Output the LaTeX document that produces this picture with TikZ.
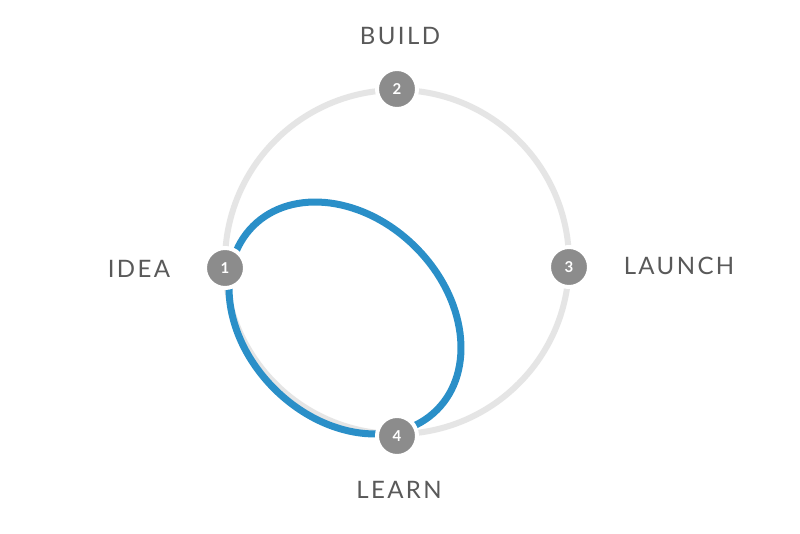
\documentclass[tikz,border=0pt]{standalone}
\usepackage{fontspec}
\setmainfont{Lato}
\definecolor{loopblue}{HTML}{2A8FC8}
\definecolor{dotgray}{HTML}{8C8C8C}
\begin{document}
\begin{tikzpicture}[x=1pt,y=-1pt,
  dot/.style={circle,fill=dotgray,draw=white,line width=4pt,minimum size=40pt,inner sep=0pt,text=white,font=\bfseries\fontsize{15}{15}\selectfont},
  lbl/.style={text=black!65,font=\addfontfeatures{LetterSpace=10}\fontsize{24}{24}\selectfont}]
\useasboundingbox[fill=white] (0,0) rectangle (800,534);
\coordinate (c) at (397,262);
\draw[black!10,line width=6pt] (c) circle (172);
\draw[loopblue,line width=7pt,rotate around={-45:(345,318)}] (345,318) ellipse [x radius=130pt, y radius=100pt];
\node[dot] (n1) at (225,268) {1};
\node[dot] (n2) at (397,89) {2};
\node[dot] (n3) at (569,267) {3};
\node[dot] (n4) at (397,436) {4};
\node[lbl] (l2) at (400,36) {BUILD};
\node[lbl] (l1) at (139,269) {IDEA};
\node[lbl] (l3) at (679,266) {LAUNCH};
\node[lbl] (l4) at (399,490) {LEARN};
\end{tikzpicture}
\end{document}
